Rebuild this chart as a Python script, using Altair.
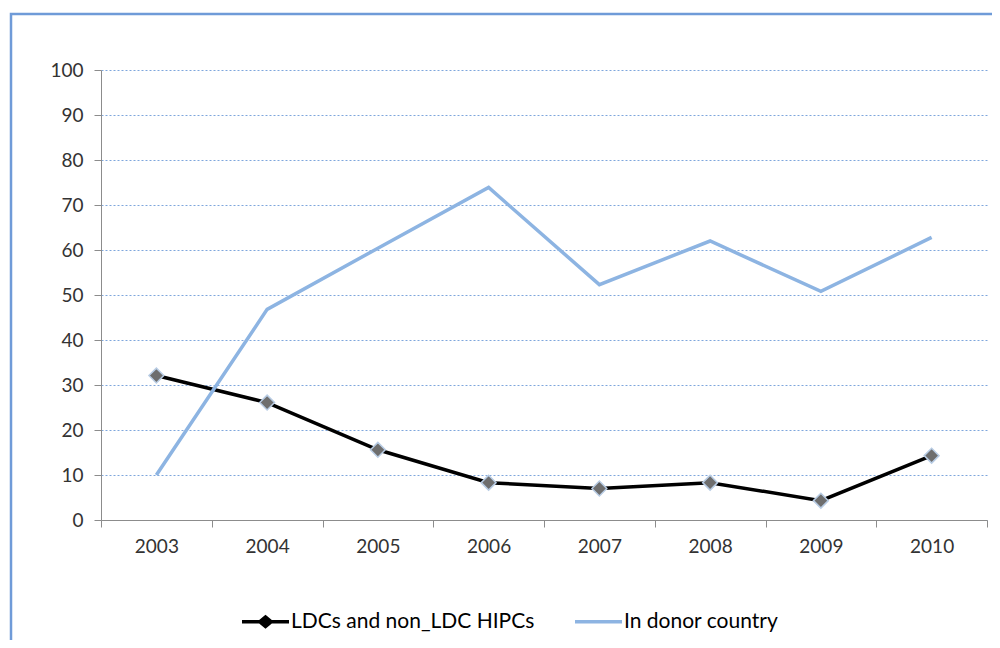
import altair as alt
import pandas as pd

years = ["2003", "2004", "2005", "2006", "2007", "2008", "2009", "2010"]
ldc_values = [32.1, 26.1, 15.6, 8.3, 7.0, 8.3, 4.3, 14.3]
donor_values = [10.0, 46.8, 60.4, 73.9, 52.3, 62.0, 50.8, 62.8]
series_names = ["LDCs and non_LDC HIPCs", "In donor country"]
series_colors = ["#000000", "#8db4e2"]
y_ticks = [0, 10, 20, 30, 40, 50, 60, 70, 80, 90, 100]

rows = []
for y, v in zip(years, ldc_values):
    rows.append({"year": y, "value": v, "series": series_names[0]})
for y, v in zip(years, donor_values):
    rows.append({"year": y, "value": v, "series": series_names[1]})
df = pd.DataFrame(rows)

FONT = "Lato"

x_enc = alt.X(
    "year:N",
    sort=years,
    scale=alt.Scale(paddingInner=0, paddingOuter=0),
    axis=alt.Axis(
        title=None, labelAngle=0, labelAlign="center", tickBand="extent", grid=False,
        domainColor="#8c8c8c", tickColor="#8c8c8c", tickSize=7,
        labelFont=FONT, labelFontSize=19, labelColor="#333333", labelPadding=19,
    ),
)
y_enc = alt.Y(
    "value:Q",
    scale=alt.Scale(domain=[0, 100], nice=False),
    axis=alt.Axis(
        title=None, values=y_ticks, grid=True, gridColor="#7ea6dc",
        gridDash=[2, 2], gridWidth=1,
        domainColor="#8c8c8c", tickColor="#8c8c8c", tickSize=7,
        labelFont=FONT, labelFontSize=19, labelColor="#333333", labelPadding=11,
    ),
)
color_scale = alt.Scale(domain=series_names, range=series_colors)

leg_black = "M-1,-0.075H-0.27L0,-0.3L0.27,-0.075H1V0.075H0.27L0,0.3L-0.27,0.075H-1Z"
leg_blue = "M-1,-0.07H1V0.07H-1Z"

legend_layer = alt.Chart(df).transform_filter("false").mark_point(
    filled=True, opacity=1
).encode(
    x=alt.X("year:N", sort=years),
    y="value:Q",
    color=alt.Color(
        "series:N", scale=color_scale,
        legend=alt.Legend(
            title=None, orient="none", direction="horizontal",
            legendX=141, legendY=528, padding=0,
            symbolSize=2209, labelOffset=2, columnPadding=40, labelLimit=500,
            labelFont=FONT, labelFontSize=21, labelColor="#000000",
            symbolStrokeWidth=0,
        ),
    ),
    shape=alt.Shape(
        "series:N",
        scale=alt.Scale(domain=series_names, range=[leg_black, leg_blue]),
    ),
)

lines = alt.Chart(df).mark_line(strokeWidth=3.5).encode(
    x=x_enc, y=y_enc,
    color=alt.Color("series:N", scale=color_scale, legend=None),
    detail="series:N",
)

points = alt.Chart(df).transform_filter(
    alt.datum.series == series_names[0]
).mark_point(
    shape="diamond", filled=True, size=220, fill="#6e6e6e",
    stroke="#b8cce4", strokeWidth=1.5, opacity=1,
).encode(x=alt.X("year:N", sort=years), y="value:Q")

frame = alt.Chart(pd.DataFrame({"a": [0]})).mark_rect(
    fill=None, stroke="#6f9bd8", strokeWidth=2.5
).encode(
    x=alt.value(-90), x2=alt.value(2000), y=alt.value(-56), y2=alt.value(1000)
)

chart = alt.layer(frame, legend_layer, lines, points).properties(
    width=886, height=450,
    autosize=alt.AutoSizeParams(type="none"),
    padding={"left": 93, "top": 62, "right": 5, "bottom": 120},
).configure_view(stroke=None)

chart.save("out.html", embed_options={"renderer": "svg", "actions": False})
